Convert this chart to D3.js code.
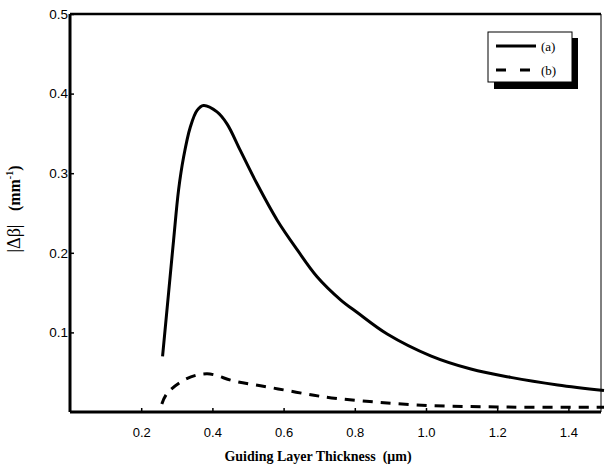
<!DOCTYPE html>
<html>
<head>
<meta charset="utf-8">
<script src="https://cdn.jsdelivr.net/npm/d3@7"></script>
<style>
  body { margin: 0; background: #fff; }
  svg { display: block; }
</style>
</head>
<body>
<div id="chart"></div>
<script>
// thickness (um) / |dBeta| (mm^-1)
const thickA = [0.260, 0.277, 0.291, 0.305, 0.319, 0.338, 0.357, 0.375, 0.413, 0.441, 0.478, 0.525, 0.582, 0.638, 0.694, 0.760, 0.807, 0.891, 1.013, 1.126, 1.238, 1.370, 1.500];
const betaA  = [0.070, 0.150, 0.216, 0.279, 0.320, 0.358, 0.379, 0.385, 0.377, 0.362, 0.329, 0.287, 0.241, 0.204, 0.170, 0.141, 0.125, 0.098, 0.0706, 0.054, 0.0435, 0.034, 0.027];
const thickB = [0.258, 0.272, 0.324, 0.385, 0.460, 0.535, 0.610, 0.685, 0.750, 0.872, 1.013, 1.154, 1.295, 1.480, 1.500];
const betaB  = [0.010, 0.023, 0.041, 0.048, 0.039, 0.033, 0.027, 0.021, 0.017, 0.012, 0.008, 0.0066, 0.006, 0.006, 0.006];
const xTicks = [0.2, 0.4, 0.6, 0.8, 1.0, 1.2, 1.4];
const yTicks = [0.1, 0.2, 0.3, 0.4, 0.5];
const seriesNames = ["(a)", "(b)"];

const W = 605, H = 470;
const svg = d3.select("#chart").append("svg")
    .attr("width", W)
    .attr("height", H);

const x = d3.scaleLinear().domain([0, 1.5]).range([70, 604]);
const y = d3.scaleLinear().domain([0, 0.5]).range([412, 14]);

const sans = "'Liberation Sans', Arial, sans-serif";
const serif = "'Liberation Serif', 'Times New Roman', serif";

// frame: thick left/bottom/top, thin right
svg.append("line").attr("x1", 70).attr("x2", 601).attr("y1", y(0.5)).attr("y2", y(0.5))
    .attr("stroke", "#000").attr("stroke-width", 2.5);
svg.append("line").attr("x1", 601).attr("x2", 601).attr("y1", y(0.5)).attr("y2", 412)
    .attr("stroke", "#000").attr("stroke-width", 1);

// x axis
const xAxis = svg.append("g")
    .attr("transform", `translate(0,${412})`)
    .call(d3.axisBottom(x).tickValues(xTicks).tickFormat(d3.format(".1f")).tickSize(-4).tickPadding(16));
xAxis.select(".domain").attr("stroke-width", 3).attr("d", `M${x(0)},0H601`);
xAxis.selectAll(".tick line").attr("stroke-width", 1.5);
xAxis.selectAll("text").style("font-family", sans).style("font-size", "13px").attr("fill", "#000");

// y axis
const yAxis = svg.append("g")
    .attr("transform", `translate(${70},0)`)
    .call(d3.axisLeft(y).tickValues(yTicks).tickFormat(d3.format(".1f")).tickSize(-4).tickPadding(2));
yAxis.select(".domain").attr("stroke-width", 3).attr("d", `M0,${y(0.5)}V412`);
yAxis.selectAll(".tick line").attr("stroke-width", 1.5);
yAxis.selectAll("text").style("font-family", sans).style("font-size", "13.5px").attr("fill", "#000");

// axis titles
svg.append("text")
    .attr("x", 318)
    .attr("y", 461)
    .attr("text-anchor", "middle")
    .attr("fill", "#000")
    .style("font-family", serif)
    .style("font-size", "14px")
    .style("font-weight", "bold")
    .text("Guiding Layer Thickness\u00a0\u00a0(\u03bcm)");

const yTitle = svg.append("text")
    .attr("transform", "translate(20,209) rotate(-90)")
    .attr("text-anchor", "middle")
    .attr("fill", "#000")
    .style("font-family", serif)
    .style("font-size", "18px");
yTitle.append("tspan").text("|\u0394\u03b2|\u00a0\u00a0\u00a0");
yTitle.append("tspan").style("font-weight", "bold").style("font-size", "16px").text("(mm");
yTitle.append("tspan").style("font-weight", "bold").style("font-size", "10px").attr("dy", -7).text("-1");
yTitle.append("tspan").style("font-weight", "bold").style("font-size", "16px").attr("dy", 7).text(")");

// curves
const line = d3.line()
    .x(d => x(d[0]))
    .y(d => y(d[1]))
    .curve(d3.curveCatmullRom.alpha(0.5));

svg.append("path")
    .datum(d3.zip(thickA, betaA))
    .attr("d", line)
    .attr("fill", "none")
    .attr("stroke", "#000")
    .attr("stroke-width", 3);

svg.append("path")
    .datum(d3.zip(thickB, betaB))
    .attr("d", line)
    .attr("fill", "none")
    .attr("stroke", "#000")
    .attr("stroke-width", 3)
    .attr("stroke-dasharray", "10,8");

// legend with drop shadow
const leg = svg.append("g").attr("transform", "translate(488,32)");
leg.append("rect").attr("x", 6).attr("y", 6).attr("width", 84).attr("height", 51).attr("fill", "#000");
leg.append("rect").attr("x", 0).attr("y", 0).attr("width", 84).attr("height", 50)
    .attr("fill", "#fff").attr("stroke", "#000").attr("stroke-width", 1);
seriesNames.forEach((name, i) => {
    const yy = 14 + i * 24;
    leg.append("line")
        .attr("x1", 8).attr("x2", 48).attr("y1", yy).attr("y2", yy)
        .attr("stroke", "#000").attr("stroke-width", 3)
        .attr("stroke-dasharray", i === 1 ? "10,14" : null);
    leg.append("text")
        .attr("x", 53).attr("y", yy + 5)
        .attr("fill", "#000")
        .style("font-family", serif)
        .style("font-size", "13px")
        .text(name);
});
</script>
</body>
</html>
